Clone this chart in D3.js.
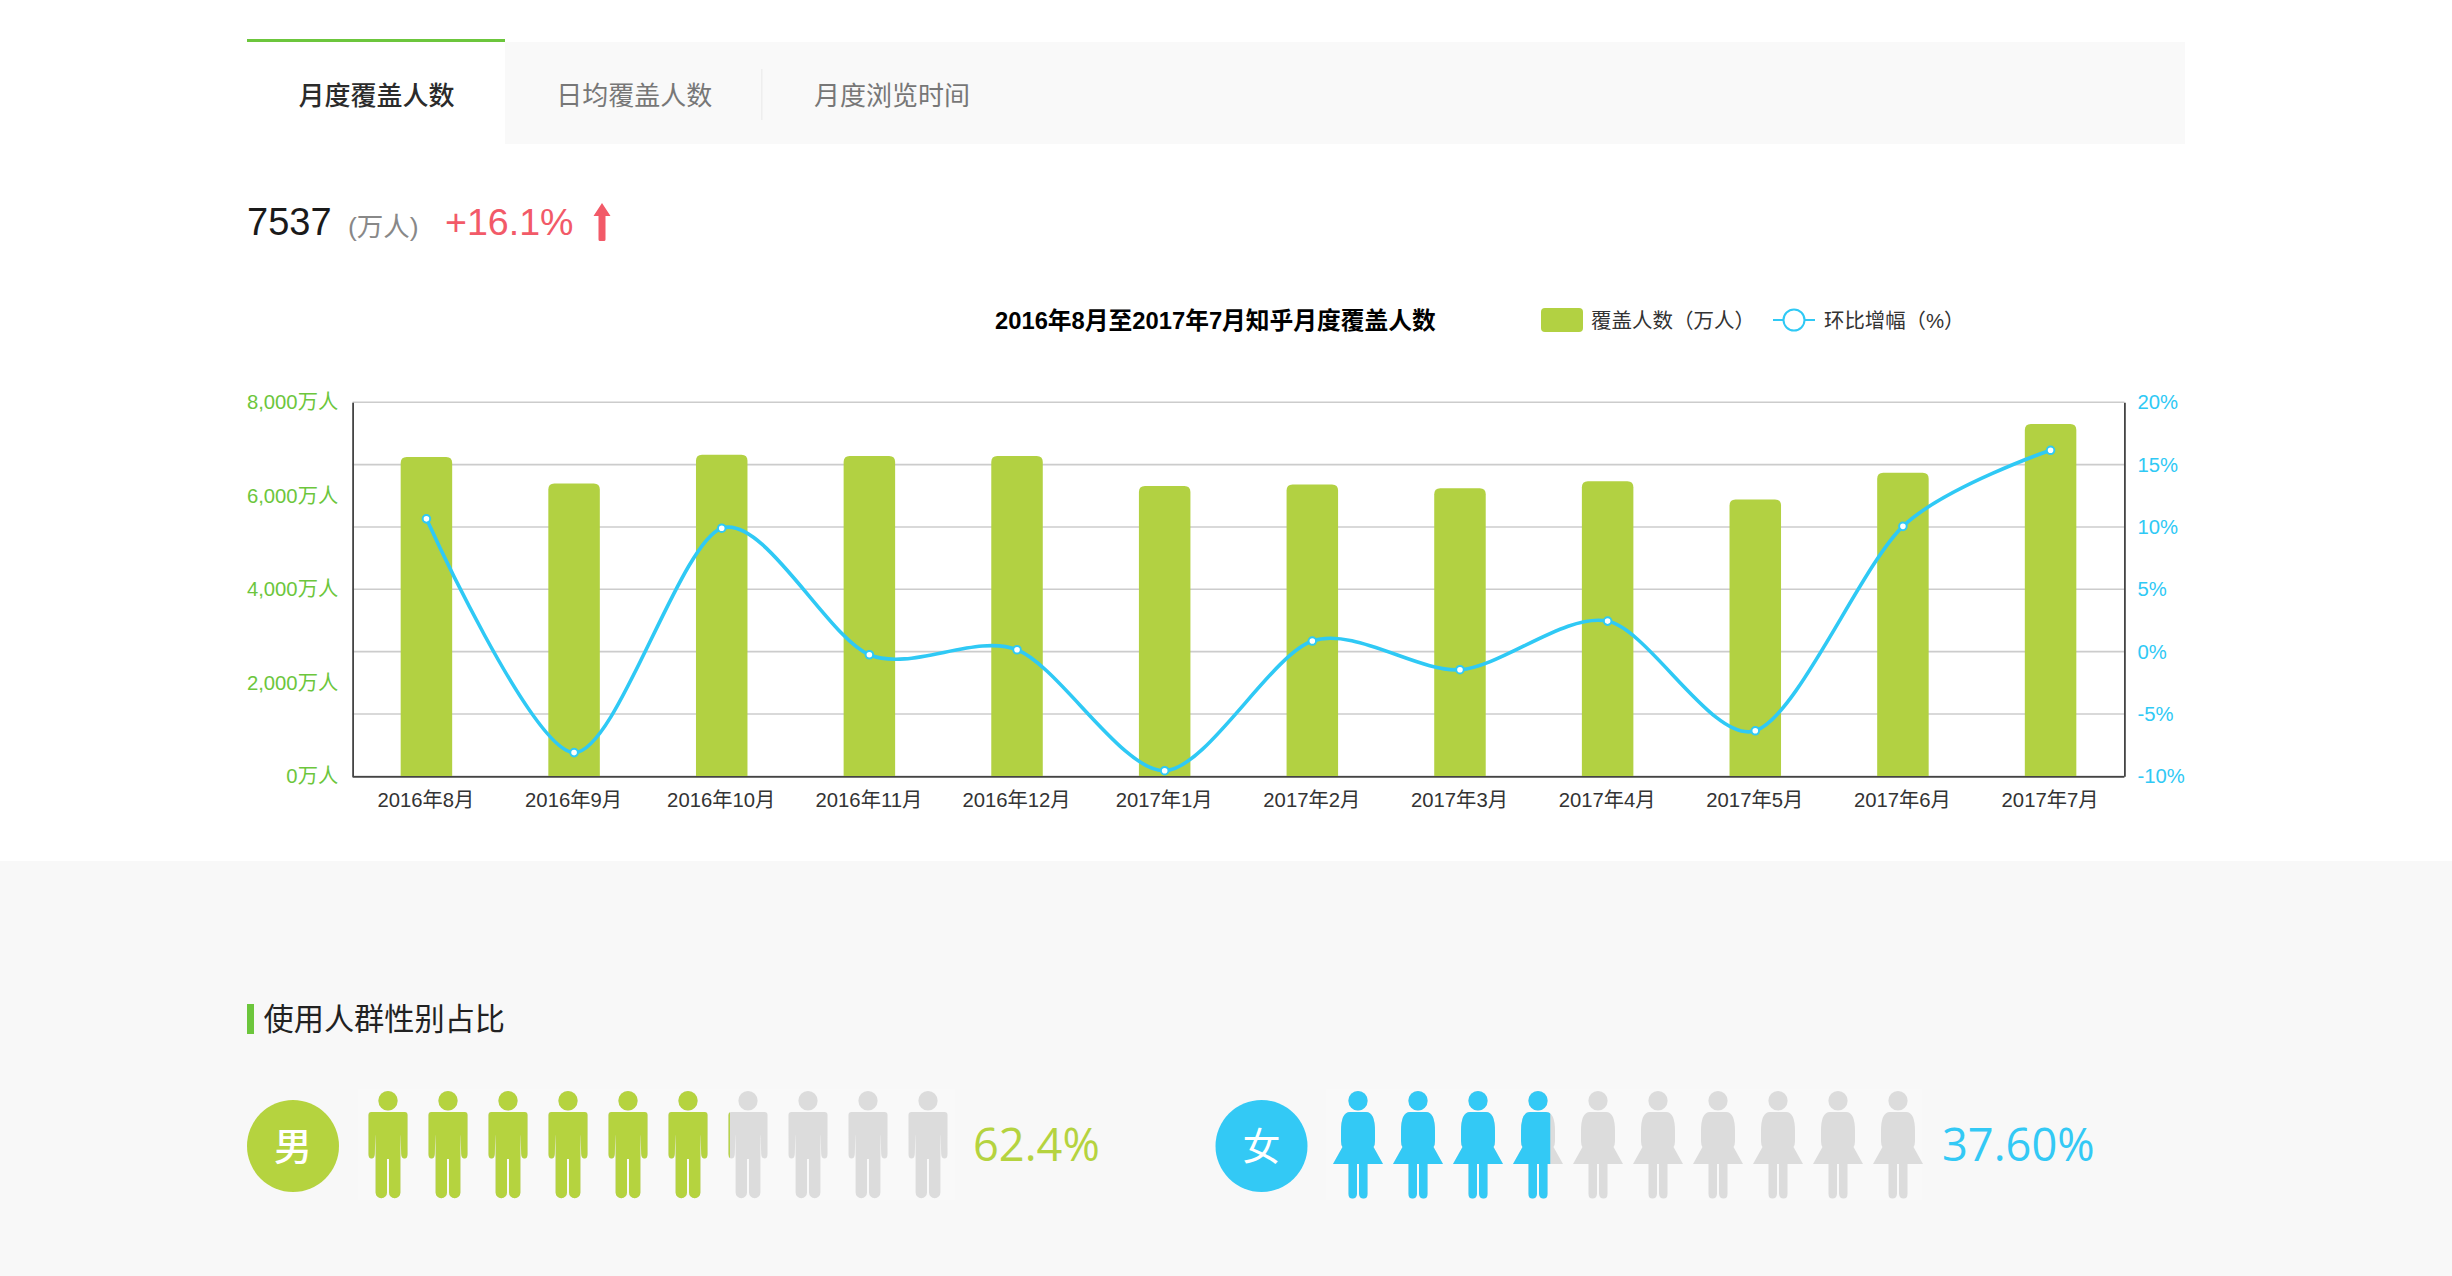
<!DOCTYPE html>
<html lang="zh-CN"><head><meta charset="utf-8">
<script src="https://cdn.jsdelivr.net/npm/d3@7/dist/d3.min.js"></script>
<style>
html,body{margin:0;padding:0;background:#fff;overflow:hidden}
svg{display:block}
svg{font-family:"Liberation Sans","Noto Sans CJK SC",sans-serif}
</style></head><body><svg id="c" width="2452" height="1276"></svg>
<script>
const months=["2016年8月","2016年9月","2016年10月","2016年11月","2016年12月","2017年1月","2017年2月","2017年3月","2017年4月","2017年5月","2017年6月","2017年7月"];
const coverage=[6830,6265,6880,6850,6850,6210,6240,6160,6310,5920,6495,7537];
const growth=[10.65,-8.1,9.9,-0.25,0.15,-9.55,0.85,-1.45,2.45,-6.35,10.05,16.15];
const leftTicks=[0,2000,4000,6000,8000];
const rightTicks=[-10,-5,0,5,10,15,20];
const tabs=["月度覆盖人数","日均覆盖人数","月度浏览时间"];
const genderNames=["男","女"];
const genderShares=[62.4,37.6];
const genderLabels=["62.4%","37.60%"];

const GREEN="#6cc63c",BAR="#b2d142",BLUE="#2fc9f5",PERSON_M="#b5d33f",PERSON_F="#33c9f5",GREY="#dcdcdc";
const svg=d3.select("#c");
const CJK='"Noto Sans CJK SC","Liberation Sans",sans-serif';

/* ---------- header tabs ---------- */
svg.append("rect").attr("x",505).attr("y",42).attr("width",1680).attr("height",102).attr("fill","#f9f9f9");
svg.append("rect").attr("x",247).attr("y",39).attr("width",258).attr("height",3).attr("fill",GREEN);
svg.append("rect").attr("x",761).attr("y",69).attr("width",1.5).attr("height",51).attr("fill","#eeeeee");
const tabX=d3.scalePoint().domain(tabs).range([376.5,892]);
svg.selectAll(".tab").data(tabs).join("text").attr("class","tab")
  .attr("x",d=>tabX(d)).attr("y",105).attr("text-anchor","middle")
  .attr("font-size",26).attr("font-weight",(d,i)=>i===0?500:400).attr("fill",(d,i)=>i===0?"#2b2b2b":"#777").text(d=>d);

/* ---------- headline ---------- */
svg.append("text").attr("x",247).attr("y",235).attr("font-size",38).attr("fill","#1a1a1a").text("7537");
svg.append("text").attr("x",348).attr("y",236).attr("font-size",26.5).attr("fill","#888").text("(万人)");
svg.append("text").attr("x",445).attr("y",235).attr("font-size",37.6).attr("fill","#f25a68").text("+16.1%");
svg.append("path").attr("fill","#f25a68").attr("transform","translate(602,203)")
  .attr("d","M0,0L8.5,13H3.5V36.5Q3.5,38 2,38H-2Q-3.5,38 -3.5,36.5V13H-8.5Z");

/* ---------- chart ---------- */
const L=352.6,R=2124.4,T=402.3,B=776.3;
const x=d3.scaleBand().domain(months).range([L,R]);
const yL=d3.scaleLinear().domain([0,8000]).range([B,T]);
const yR=d3.scaleLinear().domain([-10,20]).range([B,T]);
const barW=51.5,rad=6;

svg.append("text").attr("x",995).attr("y",329).attr("font-size",23.75).attr("font-weight",700).attr("fill","#000")
  .text("2016年8月至2017年7月知乎月度覆盖人数");
svg.append("rect").attr("x",1541).attr("y",308).attr("width",42).attr("height",24).attr("rx",4).attr("fill",BAR);
svg.append("text").attr("x",1591).attr("y",327.5).attr("font-size",20.5).attr("fill","#333").text("覆盖人数（万人）");
svg.append("line").attr("x1",1773).attr("x2",1815).attr("y1",320).attr("y2",320).attr("stroke",BLUE).attr("stroke-width",2);
svg.append("circle").attr("cx",1794).attr("cy",320).attr("r",10.5).attr("fill","#fff").attr("stroke",BLUE).attr("stroke-width",2);
svg.append("text").attr("x",1824).attr("y",327.5).attr("font-size",20.4).attr("fill","#333").text("环比增幅（%）");

svg.append("g").selectAll("line").data(rightTicks).join("line")
  .attr("x1",L).attr("x2",R).attr("y1",d=>yR(d)).attr("y2",d=>yR(d))
  .attr("stroke","#cccccc").attr("stroke-width",1.6);

svg.append("g").selectAll("path").data(coverage).join("path").attr("fill",BAR)
  .attr("d",(d,i)=>{
    const cx=x(months[i])+x.bandwidth()/2,l=cx-barW/2,r=cx+barW/2,t=yL(d);
    return `M${l},${B}V${t+rad}Q${l},${t} ${l+rad},${t}H${r-rad}Q${r},${t} ${r},${t+rad}V${B}Z`;
  });

/* axis lines and labels through d3 axes */
const lAxis=svg.append("g").attr("transform",`translate(${L},0)`)
  .call(d3.axisLeft(yL).tickValues(leftTicks).tickSize(0).tickPadding(14.4).tickFormat(d=>d3.format(",")(d)+"万人"));
const rAxis=svg.append("g").attr("transform",`translate(${R},0)`)
  .call(d3.axisRight(yR).tickValues(rightTicks).tickSize(0).tickPadding(13).tickFormat(d=>d+"%"));
const bAxis=svg.append("g").attr("transform",`translate(-0.5,${B})`)
  .call(d3.axisBottom(x).tickSize(0).tickPadding(16));
[lAxis,rAxis,bAxis].forEach(g=>{
  g.select(".domain").attr("stroke","#444").attr("stroke-width",1.8);
  g.attr("font-family",null);
  g.selectAll("text").attr("font-size",20.3);
});
lAxis.selectAll("text").attr("fill",GREEN);
rAxis.selectAll("text").attr("fill",BLUE);
bAxis.selectAll("text").attr("fill","#333");

const line=d3.line().x((d,i)=>x(months[i])+x.bandwidth()/2).y(d=>yR(d)).curve(d3.curveCardinal.tension(0.15));
svg.append("path").datum(growth).attr("d",line).attr("fill","none").attr("stroke",BLUE).attr("stroke-width",3.6);
svg.append("g").selectAll("circle").data(growth).join("circle")
  .attr("cx",(d,i)=>x(months[i])+x.bandwidth()/2).attr("cy",d=>yR(d)).attr("r",3.8)
  .attr("fill","#fff").attr("stroke",BLUE).attr("stroke-width",2);

/* ---------- gender section ---------- */
svg.append("rect").attr("x",0).attr("y",861).attr("width",2452).attr("height",415).attr("fill","#f8f8f8");
svg.append("rect").attr("x",247).attr("y",1004).attr("width",7).attr("height",30).attr("fill",GREEN);
svg.append("text").attr("x",263.5).attr("y",1030).attr("font-size",30.2).attr("fill","#222").style("font-family",CJK).text("使用人群性别占比");

const manPath="M-16.5,21H16.5Q19.5,21 19.5,24V63Q19.5,67.5 16.5,67.5Q13.5,67.5 13.2,63L12.6,44Q12.4,44 12.4,48V101.5A5.7,5.7 0 0 1 1,101.5V68H-1V101.5A5.7,5.7 0 0 1 -12.4,101.5V48Q-12.4,44 -12.6,44L-13.2,63Q-13.5,67.5 -16.5,67.5Q-19.5,67.5 -19.5,63V24Q-19.5,21 -16.5,21Z";
const womanPath="M-8,21H8Q17,21 17,40V50Q17,54 15.5,56L25,73H9.5V103Q9.5,107.5 5.5,107.5Q1.5,107.5 1,103V73H-1V103Q-1.5,107.5 -5.5,107.5Q-9.5,107.5 -9.5,103V73H-25L-15.5,56Q-17,54 -17,50V40Q-17,21 -8,21Z";
const groups=[
 {name:genderNames[0],share:genderShares[0],label:genderLabels[0],col:PERSON_M,cx:293,band:[358,958],clip:[357.4,954.4],path:manPath,lx:973,id:"m"},
 {name:genderNames[1],share:genderShares[1],label:genderLabels[1],col:PERSON_F,cx:1261.5,band:[1328,1928],clip:[1326.3,1922],path:womanPath,lx:1942,id:"f"}
];
const defs=svg.append("defs");
groups.forEach(g=>{
  svg.append("circle").attr("cx",g.cx).attr("cy",1146).attr("r",46).attr("fill",g.col);
  svg.append("text").attr("x",g.cx).attr("y",1160).attr("text-anchor","middle").attr("font-size",38).attr("font-weight",g.id==="m"?500:400)
     .style("font-family",CJK).attr("fill","#fff").text(g.name);
  svg.append("rect").attr("x",g.clip[0]).attr("y",1089).attr("width",g.clip[1]-g.clip[0]).attr("height",111).attr("fill","#f9f9f9");
  const band=d3.scaleBand().domain(d3.range(10)).range(g.band);
  const share=d3.scaleLinear().domain([0,100]).range(g.clip);
  defs.append("clipPath").attr("id","clip-"+g.id).append("rect")
     .attr("x",g.clip[0]).attr("y",1080).attr("width",share(g.share)-g.clip[0]).attr("height",130);
  const draw=(sel,color)=>{
    const fig=sel.selectAll("g").data(band.domain()).join("g")
      .attr("transform",d=>`translate(${band(d)+band.bandwidth()/2},1091)`).attr("fill",color);
    fig.append("ellipse").attr("cx",0).attr("cy",9.8).attr("rx",9.6).attr("ry",9.8);
    fig.append("path").attr("d",g.path);
  };
  draw(svg.append("g"),GREY);
  draw(svg.append("g").attr("clip-path",`url(#clip-${g.id})`),g.col);
  svg.append("text").attr("x",g.lx).attr("y",1161).attr("font-size",45.2)
     .style("font-family",'"Open Sans",sans-serif').attr("fill",g.col).text(g.label);
});
</script></body></html>
